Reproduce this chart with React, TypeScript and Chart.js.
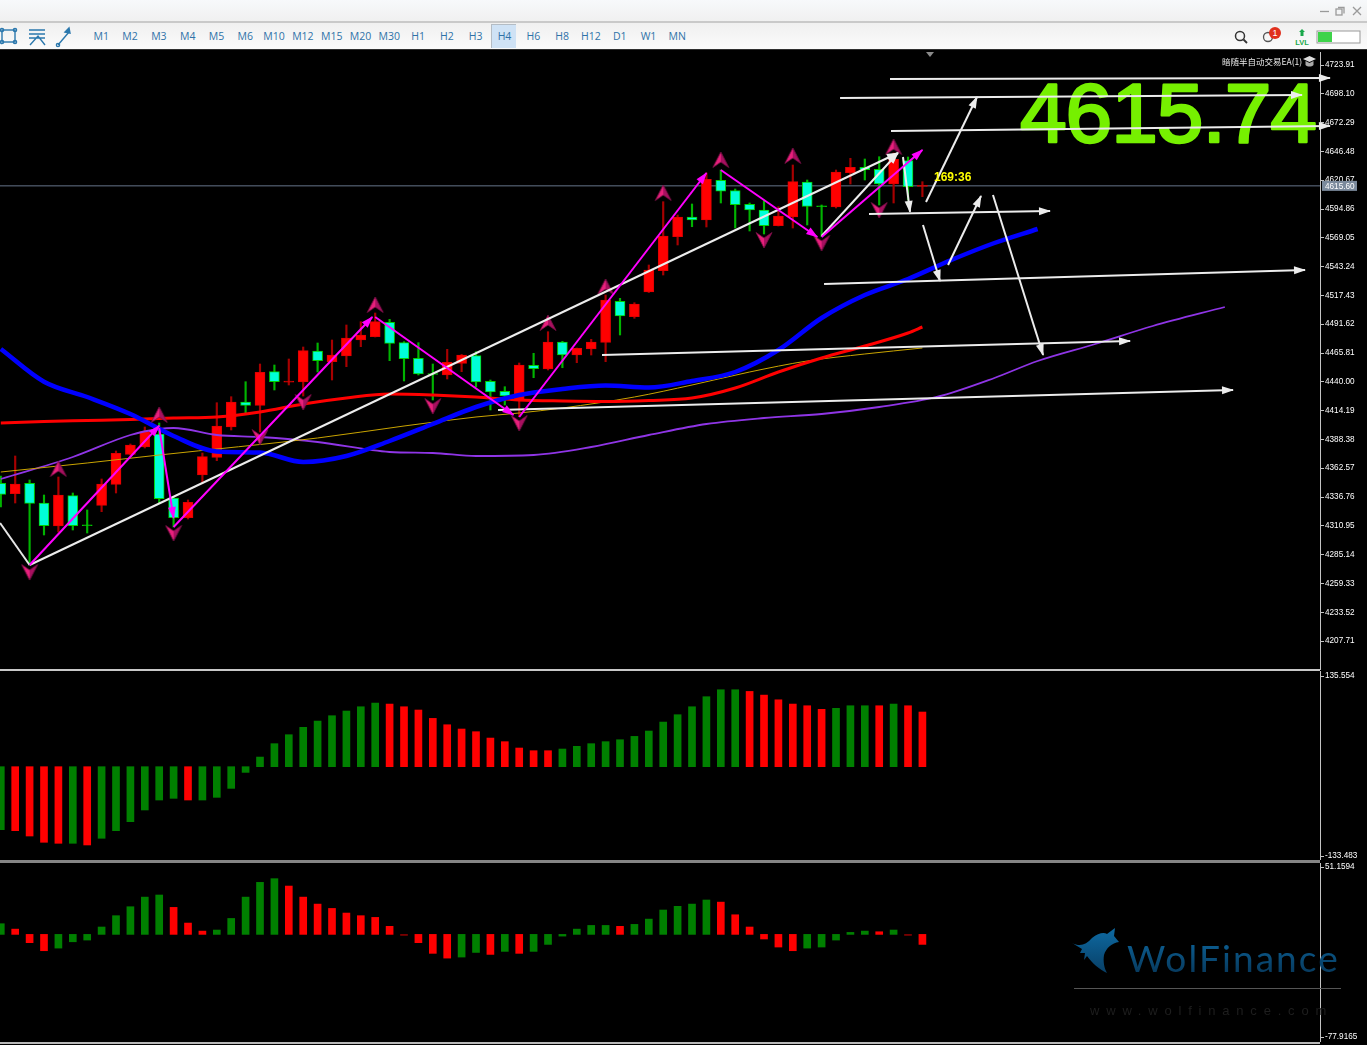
import React, { useEffect, useRef } from "react";
import { Chart, registerables } from "chart.js";

Chart.register(...registerables);

// ---------- data ----------
const candleOpen = [4349.07,4339.75,4349.07,4331.42,4310.81,4337.96,4311.9,4329.36,4348.18,4375.06,4381.6,4393.25,4335.9,4318.25,4356.51,4372.37,4399.53,4421.93,4418.97,4449.08,4439.7,4439.85,4467.63,4458.04,4463.15,4477.49,4480.44,4493.35,4475.07,4461.09,4447.5,4446.12,4456.61,4463.42,4440.47,4431.51,4423.72,4454.81,4451.5,4475.69,4464.04,4469.42,4475.42,4512.16,4498.36,4520.5,4539.59,4570.05,4587.71,4585.02,4620.59,4611.27,4599.09,4593.98,4579.91,4587.71,4619.07,4597.7,4596.67,4627.4,4632.24,4630.45,4617.28,4638.16,4615.1];
const candleClose = [4339.22,4348.45,4331.15,4311.09,4338.59,4311.09,4311.0,4348.45,4375.96,4383.4,4395.31,4335.27,4318.25,4332.05,4372.91,4400.42,4421.93,4418.97,4448.54,4440.11,4440.6,4467.9,4458.94,4464.04,4479.28,4481.97,4493.89,4474.53,4460.73,4447.02,4446.6,4457.5,4464.04,4439.85,4430.89,4427.3,4455.08,4451.77,4475.69,4464.04,4470.05,4475.69,4513.33,4498.99,4509.75,4540.21,4570.68,4587.71,4585.02,4621.49,4610.74,4598.73,4593.98,4579.91,4588.6,4619.34,4597.29,4596.9,4628.03,4632.24,4630.09,4617.28,4639.41,4614.86,4616.0];
const candleHigh = [4355.62,4373.54,4352.03,4338.59,4354.72,4340.38,4325.15,4352.93,4378.02,4384.29,4399.53,4403.11,4336.8,4334.11,4376.23,4421.3,4426.68,4440.11,4455.98,4455.08,4460.46,4471.21,4474.8,4477.49,4490.93,4493.89,4501.68,4496.03,4475.96,4475.07,4455.98,4469.15,4464.5,4467.01,4441.64,4435.64,4456.88,4465.57,4484.92,4476.32,4470.32,4478.11,4517.81,4514.85,4510.91,4544.69,4601.42,4589.5,4599.36,4627.13,4629.82,4612.8,4600.25,4602.31,4596.94,4634.3,4620.86,4598.46,4629.82,4640.31,4639.68,4641.74,4645.06,4641.47,4619.34];
const candleLow = [4327.84,4331.42,4275.86,4302.75,4305.43,4307.23,4304.54,4323.63,4340.38,4374.43,4380.71,4331.42,4309.91,4317.08,4349.34,4369.33,4396.84,4412.34,4395.04,4432.68,4437.16,4427.3,4448.81,4441.64,4453.56,4471.48,4480.17,4458.94,4440.75,4446.12,4423.72,4442.54,4449.08,4435.37,4414.76,4419.24,4408.75,4443.7,4450.6,4452.66,4457.14,4464.04,4458.04,4481.97,4496.93,4520.05,4535.73,4562.62,4579.01,4578.75,4600.25,4577.85,4575.16,4572.47,4579.64,4577.85,4580.54,4570.05,4595.77,4617.28,4620.86,4598.46,4600.25,4602.94,4605.9];

const blueIndex = [0,3,6,9,12,15,18,21,24,27,30,33,36,39,42,45,48,51,54,57,60,63,66,69,72];
const bluePrice = [4469.42,4440.11,4426.41,4411.17,4391.46,4377.57,4376.67,4368.16,4373.54,4386.98,4402.21,4417.45,4428.2,4433.58,4436.71,4434.92,4440.75,4448.81,4468.52,4497.2,4517.81,4532.15,4549.17,4564.41,4576.95];
const redIndex = [0,3,6,9,12,15,18,21,24,27,30,33,36,39,42,45,48,51,54,57,60,63,64];
const redPrice = [4403.11,4404.45,4405.35,4406.25,4407.59,4408.49,4412.97,4420.14,4425.51,4429.1,4428.2,4426.41,4423.72,4422.82,4422.38,4423.27,4425.51,4434.47,4448.81,4461.36,4472.11,4483.76,4489.14];
const goldIndex = [0,6,11,22,28,33,36,39,44,48,52,56,60,64];
const goldPrice = [4359.2,4367.27,4374.43,4389.67,4400.42,4408.49,4412.07,4416.55,4426.41,4437.16,4448.81,4458.67,4464.94,4470.32];
const purpleIndex = [0,5,9,11,12,15,18,22,27,30,33,37,41,45,49,53,57,61,65,69,72,76,80,85];
const purplePrice = [4352.93,4372.64,4392.36,4397.73,4398.63,4392.36,4390.56,4386.08,4377.12,4376.23,4373.54,4374.43,4381.6,4392.36,4402.21,4407.59,4411.17,4417.45,4426.41,4443.43,4458.67,4473.9,4490.03,4507.06];

// [fromIndex, fromPrice, toIndex, toPrice]
const magentaArrows = [
  [2,4275.86,11,4400.69],[11,4398.63,12,4317.98],[12,4309.91,25.8,4498.1],[26,4498.1,35.6,4410.28],
  [36,4408.49,49,4627.13],[50,4629.82,56.7,4569.78],[57,4569.78,64,4647.74],
];
const whiteArrows = [
  [61.75,4711.37,92.3,4712.26],[58.28,4694.34,90.36,4697.03],[61.82,4664.77,92.3,4669.25],
  [60.29,4590.39,72.86,4593.08],[57.17,4527.67,90.57,4540.21],[41.75,4464.04,78.42,4476.59],
  [34.53,4414.76,85.57,4432.68],[64.25,4601.15,67.79,4695.24],[62.65,4641.47,63.14,4592.19],
  [64.04,4580.54,65.22,4530.36],[65.78,4544.69,68.07,4606.52],[68.9,4607.42,72.38,4464.04],
  [57,4570.68,62.3,4645.06],[2,4275.86,62.3,4645.06],
];
const whiteLeadIn = [[-0.05,4313.5],[2,4275.86]];

const fractalUpIndex = [4,11,26,38,42,46,50,55,62];
const fractalUpPrice = [4361.89,4410.28,4508.85,4492.72,4524.98,4609.21,4638.78,4642.37,4650.43];
const fractalDownIndex = [2,12,18,21,30,36,53,57,61];
const fractalDownPrice = [4269.59,4304.54,4390.56,4421.93,4418.34,4403.11,4567.1,4564.41,4593.98];

const currentPrice = 4615.6;
const bigQuote = "4615.74";
const countdown = "169:36";
const eaLabel = "暗随半自动交易EA(1)";

const priceTicks = [4723.91,4698.10,4672.29,4646.48,4620.67,4594.86,4569.05,4543.24,4517.43,4491.62,4465.81,4440.00,4414.19,4388.38,4362.57,4336.76,4310.95,4285.14,4259.33,4233.52,4207.71];
const macdTicks = [135.554,-133.483];
const oscTicks = [51.1594,-77.9165];

const macdValues = [-94.1,-95.6,-103.6,-113,-114.5,-114.5,-117,-107,-95.6,-82.2,-64.7,-49.8,-47.3,-49.8,-49.8,-45.8,-32.4,-8.5,14.4,34.4,47.8,58.8,68.2,76.2,83.2,89.6,95.1,93.6,89.6,84.7,72.2,62.7,56.3,52.3,42.8,37.4,27.9,23.9,23.9,26.4,30.4,34.4,37.4,40.3,45.3,53.3,66.7,77.7,89.6,104.6,115,115,112.5,107,100,93.6,91.1,85.7,87.2,91.1,91.1,91.1,93.6,91.1,81.7];
const macdShades = "GRRRRGRGGGGGGRGGGGGGGGGGGGGRRRRRRRRRRRRGGGGGGGGGGGGGRRRRRRGGGRGRR";
const oscValues = [8.1,4,-6.3,-12.4,-10.4,-5.6,-4.3,5.6,14.2,21,28.3,29.9,20.5,8.6,2.5,3.3,12.1,28.3,39.5,42.3,36.7,28.3,23,19.7,16.2,14.2,12.9,6.1,-0.8,-6.3,-14.4,-18,-17.2,-13.7,-15.2,-12.9,-14.4,-12.9,-7.6,-1.3,4,6.8,6.8,6.1,7.6,11.6,18.5,21.3,23,26.1,24.5,14.9,5.6,-3.5,-9.6,-12.4,-10.4,-9.6,-4.3,1.5,2.5,2,3.3,-0.8,-7.6];
const oscShades = "GRRRGGGGGGGGRRRGGGGGRRRRRRRRDRRRGGRGRGGGGGGRGGGGGGRRRRRRGGGGGRGDR";

const timeframes = ["M1","M2","M3","M4","M5","M6","M10","M12","M15","M20","M30","H1","H2","H3","H4","H6","H8","H12","D1","W1","MN"];

// ---------- style ----------
const W = 1367;
const AXIS_W = 47;
const XMIN = -0.0556;
const XMAX = 91.61;
const INSET = 12; // the main canvas is this much larger at left, top and bottom
const TICK_FONT = { family: '"Liberation Sans", Arial, sans-serif', size: 8.2 };
const SHADE: Record<string, string> = { G: "#008000", R: "#ff0000", D: "#800000" };

const pts = (xs: number[], ys: number[]) => xs.map((x, i) => ({ x, y: ys[i] }));

function dart(up: boolean) {
  const c = document.createElement("canvas");
  c.width = 18; c.height = 18;
  const g = c.getContext("2d")!;
  if (!up) { g.translate(0, 18); g.scale(1, -1); }
  const half = (side: number, fill: string) => {
    g.beginPath();
    g.moveTo(9, 1); g.lineTo(side, 16.5); g.lineTo(9, 11); g.closePath();
    g.fillStyle = fill; g.fill();
  };
  half(1, "#e8207c");
  half(17, "#a81060");
  g.beginPath();
  g.moveTo(9, 1); g.lineTo(17, 16.5); g.lineTo(9, 11); g.lineTo(1, 16.5); g.closePath();
  g.lineWidth = 0.8; g.strokeStyle = "#7d0f49"; g.stroke();
  return c;
}

const arrowHeads = {
  id: "arrowHeads",
  afterDatasetsDraw(chart: any) {
    const ctx = chart.ctx;
    chart.data.datasets.forEach((ds: any, i: number) => {
      if (!ds.arrow) return;
      const els = chart.getDatasetMeta(i).data;
      const a = els[els.length - 2], b = els[els.length - 1];
      const ang = Math.atan2(b.y - a.y, b.x - a.x);
      ctx.save();
      ctx.translate(b.x, b.y); ctx.rotate(ang);
      ctx.beginPath();
      ctx.moveTo(1, 0); ctx.lineTo(-11, -4); ctx.lineTo(-11, 4); ctx.closePath();
      ctx.fillStyle = ds.borderColor; ctx.fill();
      ctx.restore();
    });
  },
};

const yAxis = (min: number, max: number, values: number[], digits: number) => ({
  type: "linear", position: "right", min, max,
  afterFit(s: any) { s.width = AXIS_W; s.paddingTop = 0; s.paddingBottom = 0; },
  afterBuildTicks(s: any) { s.ticks = values.map((value) => ({ value })); },
  border: { display: true, color: "#c4c4c4", width: 1 },
  grid: { drawOnChartArea: false, drawTicks: true, tickLength: 4, color: "#c4c4c4" },
  ticks: { autoSkip: false, padding: 1, color: "#ffffff", font: TICK_FONT, maxRotation: 0,
    callback: (v: any) => Number(v).toFixed(digits) },
});

const baseOptions = (y: any, padding: any = 0) => ({
  responsive: false, animation: false as const, events: [] as any[], devicePixelRatio: 1,
  layout: { padding },
  plugins: { legend: { display: false }, tooltip: { enabled: false } },
  scales: { x: { type: "linear", display: false, min: XMIN, max: XMAX, offset: false, grid: { display: false } }, y },
});

const mainOverlay = {
  id: "mainOverlay",
  beforeDatasetsDraw(chart: any) {
    const ctx = chart.ctx;
    ctx.save();
    ctx.translate(chart.chartArea.left, chart.chartArea.top);
    ctx.font = '84px "Liberation Sans", sans-serif';
    ctx.letterSpacing = "-1.1px";
    ctx.textBaseline = "alphabetic";
    ctx.fillStyle = "#76f000"; ctx.strokeStyle = "#76f000";
    ctx.lineWidth = 2.5; ctx.lineJoin = "round";
    ctx.fillText(bigQuote, 1020, 89.5);
    ctx.strokeText(bigQuote, 1020, 89.5);
    ctx.restore();
  },
  afterDraw(chart: any) {
    const ctx = chart.ctx;
    const yp = chart.scales.y.getPixelForValue(currentPrice) - chart.chartArea.top;
    ctx.save();
    ctx.translate(chart.chartArea.left, chart.chartArea.top);
    ctx.fillStyle = "#7b8a9c"; ctx.fillRect(1322, yp - 5, 35, 10);
    ctx.fillStyle = "#ffffff"; ctx.font = '8.2px "Liberation Sans", sans-serif';
    ctx.textBaseline = "middle"; ctx.textAlign = "left";
    ctx.fillText(currentPrice.toFixed(2), 1325, yp + 0.5);
    ctx.fillStyle = "#ffff00"; ctx.font = 'bold 12px "Liberation Sans", sans-serif';
    ctx.fillText(countdown, 934, yp - 8);
    ctx.fillStyle = "#e8e8e8"; ctx.font = '8.5px "Noto Sans CJK SC", "Liberation Sans", sans-serif';
    ctx.fillText(eaLabel, 1222, 10);
    ctx.restore();
  },
};

const logoOverlay = {
  id: "logoOverlay",
  beforeDatasetsDraw(chart: any) {
    const ctx = chart.ctx;
    ctx.save();
    const g = ctx.createLinearGradient(0, 78, 0, 110);
    g.addColorStop(0, "#0c5f93"); g.addColorStop(1, "#073a5e");
    ctx.fillStyle = g;
    ctx.font = "37px Lato, sans-serif";
    ctx.letterSpacing = "2.1px";
    ctx.fillText("WolFinance", 1127, 109);
    ctx.letterSpacing = "0px";
    ctx.fillStyle = "#555555"; ctx.fillRect(1074, 125, 267, 1);
    ctx.fillStyle = "#1e1e1e"; ctx.font = '13px "Liberation Sans", sans-serif';
    ctx.letterSpacing = "6.8px";
    ctx.fillText("www.wolfinance.com", 1090, 152);
    ctx.restore();
  },
};

function histogram(values: number[], shades: string) {
  return [{
    type: "bar" as const,
    data: pts(values.map((_, i) => i), values),
    backgroundColor: values.map((_, i) => SHADE[shades[i]]),
    barThickness: 7,
    grouped: false,
  }];
}

const lineSet = (data: any[], color: string, width: number, order: number, extra: any = {}) => ({
  type: "line" as const, data, borderColor: color, borderWidth: width, pointRadius: 0, order, clip: false as any, tension: 0, ...extra,
});

export default function App() {
  const mainRef = useRef<HTMLCanvasElement>(null);
  const macdRef = useRef<HTMLCanvasElement>(null);
  const oscRef = useRef<HTMLCanvasElement>(null);

  useEffect(() => {
    const idx = candleOpen.map((_, i) => i);
    const up = candleOpen.map((o, i) => candleClose[i] > o);
    const datasets: any[] = [
      lineSet([{ x: XMIN, y: currentPrice }, { x: XMAX, y: currentPrice }], "#66748a", 1, 12),
      { type: "bar", order: 11, grouped: false, barThickness: 1.5,
        data: idx.map((i) => ({ x: i, y: [candleLow[i], candleHigh[i]] })),
        backgroundColor: up.map((u) => (u ? "#a80000" : "#00b400")) },
      { type: "bar", order: 10, grouped: false, barThickness: 10, borderWidth: 1, borderSkipped: false,
        data: idx.map((i) => ({ x: i, y: [candleOpen[i], candleClose[i]] })),
        backgroundColor: idx.map((i) => (Math.abs(candleOpen[i] - candleClose[i]) < 1.2 ? (up[i] ? "#d00000" : "#00c800") : up[i] ? "#ff0000" : "#00ffd8")),
        borderColor: up.map((u) => (u ? "#e00000" : "#00d000")) },
      lineSet(pts(purpleIndex, purplePrice), "#8f35e6", 1.8, 9, { cubicInterpolationMode: "monotone" }),
      lineSet(pts(goldIndex, goldPrice), "#c9a400", 1, 8, { cubicInterpolationMode: "monotone" }),
      lineSet(pts(redIndex, redPrice), "#ff0000", 3, 7, { cubicInterpolationMode: "monotone" }),
      lineSet(pts(blueIndex, bluePrice), "#0000ff", 4.5, 6, { cubicInterpolationMode: "monotone" }),
      { type: "line", order: 5, showLine: false, pointStyle: dart(true), pointRadius: 9,
        data: pts(fractalUpIndex, fractalUpPrice) },
      { type: "line", order: 5, showLine: false, pointStyle: dart(false), pointRadius: 9,
        data: pts(fractalDownIndex, fractalDownPrice) },
      lineSet(whiteLeadIn.map(([x, y]) => ({ x, y })), "#e6e6e6", 2, 4),
      ...whiteArrows.map(([a, b, c, d]) =>
        lineSet([{ x: a, y: b }, { x: c, y: d }], "#ececec", 2, 3, { arrow: true })),
      ...magentaArrows.map(([a, b, c, d]) =>
        lineSet([{ x: a, y: b }, { x: c, y: d }], "#ff00ff", 2, 2, { arrow: true })),
    ];
    const main = new Chart(mainRef.current!, {
      type: "bar", data: { datasets },
      options: baseOptions(yAxis(4182.67, 4735.56, priceTicks, 2), { left: INSET, top: INSET, bottom: INSET, right: 0 }) as any,
      plugins: [mainOverlay, arrowHeads],
    });
    const macd = new Chart(macdRef.current!, {
      type: "bar", data: { datasets: histogram(macdValues, macdShades) as any },
      options: baseOptions(yAxis(-139.46, 143.03, macdTicks, 3)) as any,
    });
    const osc = new Chart(oscRef.current!, {
      type: "bar", data: { datasets: histogram(oscValues, oscShades) as any },
      options: baseOptions(yAxis(-81.7, 54.2, oscTicks, 4)) as any,
      plugins: [logoOverlay],
    });
    return () => { main.destroy(); macd.destroy(); osc.destroy(); };
  }, []);

  const abs = (left: number, top: number, width: number, height: number, extra: any = {}) =>
    ({ position: "absolute", left, top, width, height, ...extra }) as React.CSSProperties;
  const icon = "#2b78ad";

  return (
    <div style={abs(0, 0, W, 1045, { background: "#000", overflow: "hidden", fontFamily: '"Open Sans", sans-serif' })}>
      <canvas ref={macdRef} width={W} height={189} style={abs(0, 671, W, 189)} />
      <canvas ref={oscRef} width={W} height={179} style={abs(0, 863, W, 179)} />
      <div style={abs(0, 669, 1320, 2, { background: "#c8c8c8" })} />
      <div style={abs(0, 860, 1320, 3, { background: "#858585" })} />
      <div style={abs(0, 1042, 1320, 2, { background: "#b8b8b8" })} />

      <div style={abs(0, 0, W, 21, { background: "linear-gradient(#f7f9fb,#f0f0f0)" })} />
      <div style={abs(0, 21, W, 2, { background: "#c9c9c9" })} />
      <div style={abs(0, 23, W, 27, { background: "linear-gradient(#f0f0f0,#fbfbfb)" })} />
      <div style={abs(0, 49, W, 1, { background: "#303030" })} />
      <div style={abs(491, 24, 25, 24, { background: "#cfe2f5", borderLeft: "1px solid #b4bcc4", borderTop: "1px solid #b4bcc4", boxSizing: "border-box" })} />
      {timeframes.map((t, i) => (
        <div key={t} style={abs(101.3 + i * 28.8 - 15, 29, 30, 15, { textAlign: "center", fontSize: 10.5, lineHeight: "15px", color: "#2f72a8" })}>{t}</div>
      ))}
      <svg style={abs(0, 24, 80, 25)} viewBox="0 0 80 25" fill="none" stroke={icon} strokeWidth="1.4">
        <rect x="2" y="6" width="13" height="12" />
        <circle cx="2" cy="6" r="1.6" /><circle cx="15" cy="6" r="1.6" /><circle cx="2" cy="18" r="1.6" /><circle cx="15" cy="18" r="1.6" />
        <path d="M29 6h16M29 10h16M29 14h16M30 21l8-9 7 9" />
        <path d="M58 21l11-13" /><circle cx="58" cy="21" r="1.6" /><path d="M69 4l1 5-5-1z" fill={icon} />
      </svg>
      <svg style={abs(1230, 24, 137, 25)} viewBox="0 0 137 25" fill="none">
        <circle cx="10" cy="12" r="4.5" stroke="#333" strokeWidth="1.5" /><path d="M13.5 15.5l3.5 3.5" stroke="#333" strokeWidth="1.8" />
        <circle cx="38" cy="13" r="4.5" stroke="#555" strokeWidth="1.3" />
        <circle cx="45" cy="9" r="6" fill="#e0301e" />
        <text x="45" y="12" fontSize="9" fill="#fff" textAnchor="middle" fontFamily="Liberation Sans">1</text>
        <path d="M72 5l3 3h-1.5v4h-3v-4H69z" fill="#19a84a" />
        <text x="72" y="21" fontSize="7.5" fill="#19a84a" textAnchor="middle" fontFamily="Liberation Sans" fontWeight="bold">LVL</text>
        <rect x="87" y="7" width="43" height="12" fill="#fff" stroke="#999" />
        <rect x="88" y="8" width="14" height="10" fill="#3ed34a" />
      </svg>
      <svg style={abs(1315, 4, 52, 16)} viewBox="0 0 52 16" fill="none" stroke="#9a9a9a" strokeWidth="1.3">
        <path d="M5 7.5h9" />
        <rect x="21" y="5" width="6" height="6" /><path d="M23 3.5h6v6" />
        <path d="M38 3l8 8M46 3l-8 8" />
      </svg>

      <canvas ref={mainRef} width={W + INSET} height={617 + 2 * INSET} style={abs(-INSET, 52 - INSET, W + INSET, 617 + 2 * INSET)} />

      <div style={abs(926, 52, 0, 0, { borderLeft: "4px solid transparent", borderRight: "4px solid transparent", borderTop: "5px solid #8a8a8a" })} />
      <svg style={abs(1302, 55, 15, 13)} viewBox="0 0 15 13">
        <path d="M1 4l6.5-3L14 4 7.5 7z" fill="#ddd" /><path d="M3.5 6v4c2 2 6 2 8 0V6L7.5 8z" fill="#aaa" />
      </svg>
      <svg style={abs(1072, 928, 48, 46)} viewBox="0 0 48 46">
        <defs><linearGradient id="wolf" x1="0" y1="0" x2="0" y2="1"><stop offset="0" stopColor="#0e6aa2" /><stop offset="1" stopColor="#083f66" /></linearGradient></defs>
        <path d="M0 15C8 19 14 17 20 10 26 5 32 4 35 6L43 0 42 8 47 14C40 15 34 20 32 27 31 33 32 40 35 45 27 41 20 35 15 28L12 32 13 25 8 25 10 21Z" fill="url(#wolf)" />
      </svg>
    </div>
  );
}
